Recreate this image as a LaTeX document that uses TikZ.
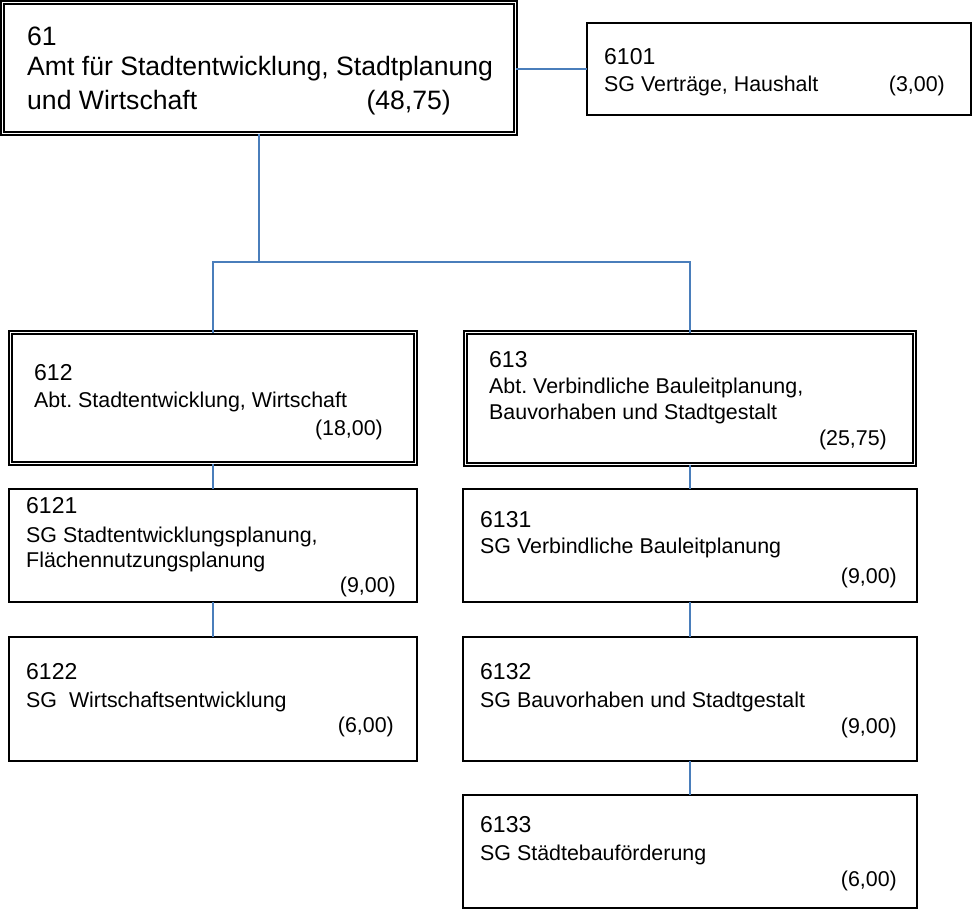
\documentclass[tikz,border=0pt]{standalone}
\usepackage{fontspec}
\setmainfont{Liberation Sans}
\frenchspacing
\definecolor{connblue}{RGB}{74,126,187}
\tikzset{
  sbox/.style={draw=black, line width=1.4pt, inner sep=0pt, outer sep=0pt, rectangle},
  dbox/.style={draw=black, double=white, double distance=1.5pt, line width=1.7pt, inner sep=0pt, outer sep=0pt, rectangle},
  conn/.style={draw=connblue, line width=1.5pt},
  big/.style={inner sep=0pt, font=\fontsize{26.6}{31}\selectfont},
  num/.style={inner sep=0pt, font=\fontsize{23}{27}\selectfont},
  txt/.style={inner sep=0pt, font=\fontsize{21.4}{25}\selectfont},
}
\begin{document}
\begin{tikzpicture}[x=1pt, y=-1pt]
\useasboundingbox (0,0) rectangle (973,911);
% boxes
\node[dbox, minimum width=513pt, minimum height=131pt] (b61) at (259,68) {};
\node[sbox, minimum width=384pt, minimum height=92pt] (b6101) at (779,69) {};
\node[dbox, minimum width=405pt, minimum height=131pt] (b612) at (213,398) {};
\node[dbox, minimum width=449pt, minimum height=132pt] (b613) at (690,398.5) {};
\node[sbox, minimum width=408pt, minimum height=113pt] (b6121) at (213,545.5) {};
\node[sbox, minimum width=408pt, minimum height=124pt] (b6122) at (213,699) {};
\node[sbox, minimum width=454pt, minimum height=113pt] (b6131) at (690,545.5) {};
\node[sbox, minimum width=454pt, minimum height=124pt] (b6132) at (690,699) {};
\node[sbox, minimum width=454pt, minimum height=113pt] (b6133) at (690,851.5) {};
% connectors
\coordinate (j) at (259,262);
\draw[conn] (b61.south) -- (j);
\draw[conn] (b612.north) |- (j) -| (b613.north);
\draw[conn] (b6101.west -| b61.east) -- (b6101.west);
\draw[conn] (b612.south) -- (b6121.north);
\draw[conn] (b6121.south) -- (b6122.north);
\draw[conn] (b613.south) -- (b6131.north);
\draw[conn] (b6131.south) -- (b6132.north);
\draw[conn] (b6132.south) -- (b6133.north);
% texts 61
\node[big, anchor=base west] (t61a) at (27,45) {61};
\node[big, anchor=base west] (t61b) at (27,75) {Amt für Stadtentwicklung, Stadtplanung};
\node[big, anchor=base west] (t61c) at (27,109) {und Wirtschaft};
\node[big, anchor=base east] (t61d) at (451,109) {(48,75)};
% 6101
\node[num, anchor=base west] (t6101a) at (604,64) {6101};
\node[txt, anchor=base west] (t6101b) at (604,91) {SG Verträge, Haushalt};
\node[txt, anchor=base east] (t6101c) at (945,91) {(3,00)};
% 612
\node[num, anchor=base west] (t612a) at (34,380) {612};
\node[txt, anchor=base west] (t612b) at (34,407) {Abt. Stadtentwicklung, Wirtschaft};
\node[txt, anchor=base east] (t612c) at (383,435) {(18,00)};
% 613
\node[num, anchor=base west] (t613a) at (489,367) {613};
\node[txt, anchor=base west] (t613b) at (489,393) {Abt. Verbindliche Bauleitplanung,};
\node[txt, anchor=base west] (t613c) at (489,419) {Bauvorhaben und Stadtgestalt};
\node[txt, anchor=base east] (t613d) at (887,445) {(25,75)};
% 6121
\node[num, anchor=base west] (t6121a) at (26,513) {6121};
\node[txt, anchor=base west] (t6121b) at (26,542) {SG Stadtentwicklungsplanung,};
\node[txt, anchor=base west] (t6121c) at (26,567) {Flächennutzungsplanung};
\node[txt, anchor=base east] (t6121d) at (396,592) {(9,00)};
% 6122
\node[num, anchor=base west] (t6122a) at (26,679) {6122};
\node[txt, anchor=base west] (t6122b) at (26,707) {SG\ \ Wirtschaftsentwicklung};
\node[txt, anchor=base east] (t6122c) at (394,732) {(6,00)};
% 6131
\node[num, anchor=base west] (t6131a) at (480,527) {6131};
\node[txt, anchor=base west] (t6131b) at (480,553) {SG Verbindliche Bauleitplanung};
\node[txt, anchor=base east] (t6131c) at (897,583) {(9,00)};
% 6132
\node[num, anchor=base west] (t6132a) at (480,679) {6132};
\node[txt, anchor=base west] (t6132b) at (480,707) {SG Bauvorhaben und Stadtgestalt};
\node[txt, anchor=base east] (t6132c) at (897,733) {(9,00)};
% 6133
\node[num, anchor=base west] (t6133a) at (480,832) {6133};
\node[txt, anchor=base west] (t6133b) at (480,860) {SG Städtebauförderung};
\node[txt, anchor=base east] (t6133c) at (897,886) {(6,00)};
\end{tikzpicture}
\end{document}
